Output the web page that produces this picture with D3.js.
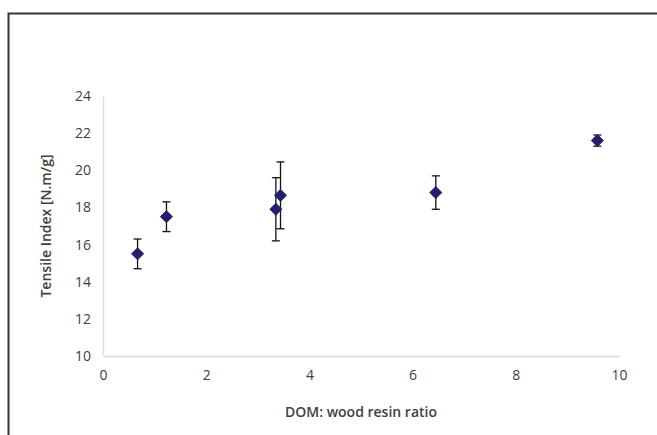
<!DOCTYPE html>
<html>
<head>
<meta charset="utf-8">
<script src="https://cdn.jsdelivr.net/npm/d3@7"></script>
<style>
  body { margin: 0; background: #fff; }
  svg text { font-family: "Open Sans", "Liberation Sans", sans-serif; }
</style>
</head>
<body>
<div id="chart"></div>
<script>
// values
const ratio = [0.67, 1.23, 3.35, 3.44, 6.45, 9.58];
const tensile = [15.5, 17.5, 17.9, 18.65, 18.8, 21.6];
const errors = [0.8, 0.8, 1.7, 1.8, 0.9, 0.3];
const xTicks = [0, 2, 4, 6, 8, 10];
const yTicks = [10, 12, 14, 16, 18, 20, 22, 24];

const width = 657, height = 435;
const margin = { top: 96, right: 38, bottom: 79, left: 103 };

const svg = d3.select('#chart').append('svg')
    .attr('width', width)
    .attr('height', height);

// outer frame (top and left edges visible)
svg.append('path')
    .attr('d', 'M8.5,' + height + ' V13.5 H' + width)
    .attr('fill', 'none')
    .attr('stroke', '#333')
    .attr('stroke-width', 2);

const x = d3.scaleLinear().domain([0, 10]).range([margin.left, width - margin.right]);
const y = d3.scaleLinear().domain([10, 24]).range([height - margin.bottom, margin.top]);

const xAxis = svg.append('g')
    .attr('transform', 'translate(0,' + (height - margin.bottom) + ')')
    .call(d3.axisBottom(x).tickValues(xTicks).tickSize(0).tickPadding(14));
xAxis.select('.domain').attr('stroke', '#e0e0e0').attr('stroke-width', 2);
xAxis.selectAll('text').attr('fill', '#404040').style('font-size', '14px');

const yAxis = svg.append('g')
    .attr('transform', 'translate(' + margin.left + ',0)')
    .call(d3.axisLeft(y).tickValues(yTicks).tickSize(0).tickPadding(12));
yAxis.select('.domain').attr('stroke', '#e0e0e0').attr('stroke-width', 1.5);
yAxis.selectAll('text').attr('fill', '#404040').style('font-size', '14px');

svg.append('text')
    .attr('x', (x(0) + x(10)) / 2)
    .attr('y', 417)
    .attr('text-anchor', 'middle')
    .attr('fill', '#404040')
    .style('font-size', '14px')
    .style('font-weight', '600')
    .text('DOM: wood resin ratio');

svg.append('text')
    .attr('transform', 'translate(51,' + ((y(10) + y(24)) / 2) + ') rotate(-90)')
    .attr('text-anchor', 'middle')
    .attr('fill', '#404040')
    .style('font-size', '14px')
    .style('font-weight', '600')
    .text('Tensile Index  [N.m/g]');

const points = ratio.map((r, i) => ({ x: r, y: tensile[i], e: errors[i] }));

const bars = svg.append('g').attr('stroke', '#111').attr('stroke-width', 1.3);
points.forEach(d => {
    bars.append('line')
        .attr('x1', x(d.x)).attr('x2', x(d.x))
        .attr('y1', y(d.y - d.e)).attr('y2', y(d.y + d.e));
    [d.y - d.e, d.y + d.e].forEach(v => {
        bars.append('line')
            .attr('x1', x(d.x) - 4).attr('x2', x(d.x) + 4)
            .attr('y1', y(v)).attr('y2', y(v));
    });
});

// Excel-style diamond, about as wide as it is tall
const wideDiamond = {
    draw(context, size) {
        const r = Math.sqrt(size) / 2;
        context.moveTo(0, -r);
        context.lineTo(r, 0);
        context.lineTo(0, r);
        context.lineTo(-r, 0);
        context.closePath();
    }
};

svg.append('g').selectAll('path')
    .data(points)
    .enter().append('path')
    .attr('d', d3.symbol().type(wideDiamond).size(144))
    .attr('transform', d => 'translate(' + x(d.x) + ',' + y(d.y) + ')')
    .attr('fill', '#231f6e')
    .attr('stroke', '#231f6e')
    .attr('stroke-width', 1);
</script>
</body>
</html>
